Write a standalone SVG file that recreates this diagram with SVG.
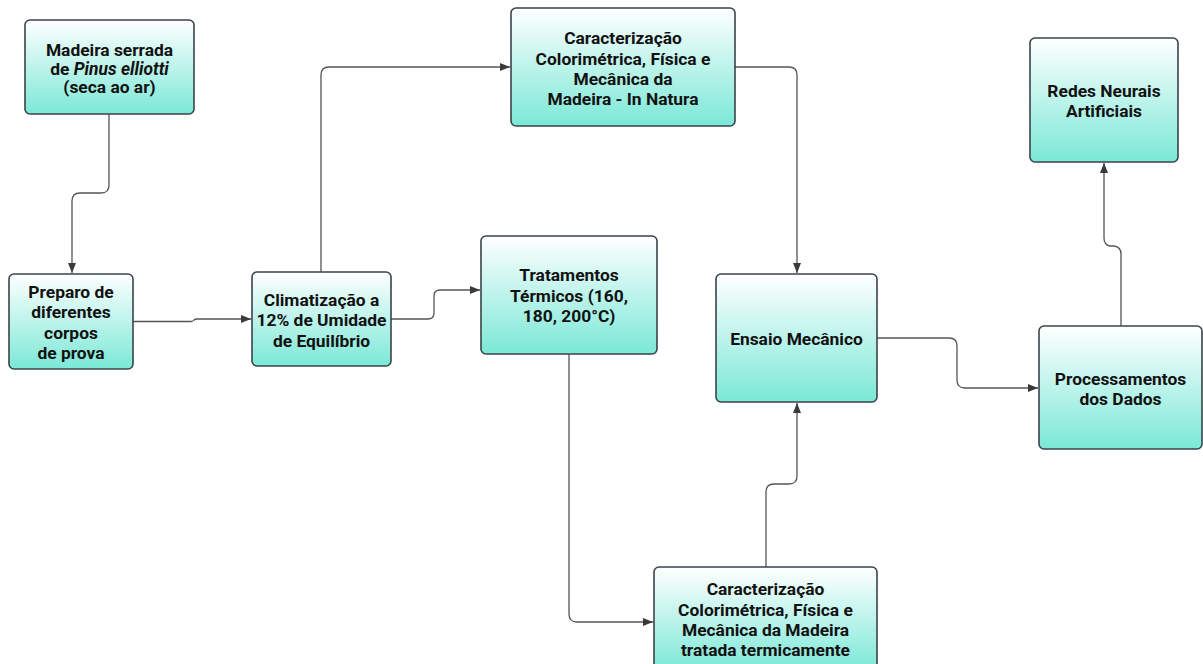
<svg xmlns="http://www.w3.org/2000/svg" width="1203" height="664" viewBox="0 0 1203 664">
<defs>
<linearGradient id="g" x1="0" y1="0" x2="0" y2="1">
<stop offset="0" stop-color="#ffffff"/>
<stop offset="1" stop-color="#7be8d7"/>
</linearGradient>
<marker id="a" markerWidth="11" markerHeight="9" refX="10" refY="4" orient="auto" markerUnits="userSpaceOnUse">
<path d="M0,0 L10,4 L0,8 z" fill="#3a3a3a"/>
</marker>
<style>
.n rect{fill:url(#g);stroke:#3b4448;stroke-width:1.6}
.n text{font-family:Roboto,"Liberation Sans",sans-serif;font-weight:bold;font-size:17.4px;fill:#111;text-anchor:middle}
.c path{fill:none;stroke:#555;stroke-width:1.3;marker-end:url(#a)}
</style>
</defs>
<rect width="1203" height="664" fill="#ffffff"/>
<g class="c" id="connectors">
<path d="M109,114 V185 Q109,193 101,193 H80 Q72,193 72,201 V273"/>
<path d="M133,321.5 H191 Q193,321.5 194,320 Q195,319 197,319 H251"/>
<path d="M321,272 V75 Q321,67 329,67 H510"/>
<path d="M391,319 H428 Q434,319 434,313 V296 Q434,290 440,290 H480"/>
<path d="M735,67 H789 Q797,67 797,75 V273"/>
<path d="M569,354 V614 Q569,622 577,622 H653"/>
<path d="M766,567 V492 Q766,484 774,484 H789 Q797,484 797,476 V403"/>
<path d="M877,338 H949 Q957,338 957,346 V380 Q957,388 965,388 H1038"/>
<path d="M1121,326 V254 Q1121,247 1114,246 H1110 Q1104,245 1104,238 V163"/>
</g>
<g class="n" id="n1">
<rect x="25" y="20" width="169" height="94" rx="5"/>
<text x="109.5" y="56.3">Madeira serrada</text>
<text x="109.5" y="74.8">de <tspan font-style="italic">Pinus elliotti</tspan></text>
<text x="109.5" y="93.2">(seca ao ar)</text>
</g>
<g class="n" id="n2">
<rect x="9" y="274" width="124" height="95" rx="5"/>
<text x="71" y="298">Preparo de</text>
<text x="71" y="318">diferentes</text>
<text x="71" y="338.5">corpos</text>
<text x="71" y="358.5">de prova</text>
</g>
<g class="n" id="n3">
<rect x="252" y="272" width="139" height="94" rx="5"/>
<text x="321.5" y="305.5">Climatização a</text>
<text x="321.5" y="326">12% de Umidade</text>
<text x="321.5" y="346.5">de Equilíbrio</text>
</g>
<g class="n" id="n4">
<rect x="511" y="8" width="224" height="118" rx="5"/>
<text x="623" y="43.5">Caracterização</text>
<text x="623" y="64.5">Colorimétrica, Física e</text>
<text x="623" y="84.5">Mecânica da</text>
<text x="623" y="105">Madeira - In Natura</text>
</g>
<g class="n" id="n5">
<rect x="481" y="236" width="176" height="118" rx="5"/>
<text x="569" y="281">Tratamentos</text>
<text x="569" y="302">Térmicos (160,</text>
<text x="569" y="322">180, 200°C)</text>
</g>
<g class="n" id="n6">
<rect x="716" y="274" width="161" height="128" rx="5"/>
<text x="796.5" y="345">Ensaio Mecânico</text>
</g>
<g class="n" id="n7">
<rect x="1030" y="38" width="148" height="124" rx="5"/>
<text x="1104" y="97">Redes Neurais</text>
<text x="1104" y="117">Artificiais</text>
</g>
<g class="n" id="n8">
<rect x="1039" y="326" width="163" height="123" rx="5"/>
<text x="1120.5" y="384.5">Processamentos</text>
<text x="1120.5" y="404.5">dos Dados</text>
</g>
<g class="n" id="n9">
<rect x="654" y="567" width="223" height="104" rx="5"/>
<text x="765.5" y="594.5">Caracterização</text>
<text x="765.5" y="615.5">Colorimétrica, Física e</text>
<text x="765.5" y="636">Mecânica da Madeira</text>
<text x="765.5" y="655.5">tratada termicamente</text>
</g>
</svg>
